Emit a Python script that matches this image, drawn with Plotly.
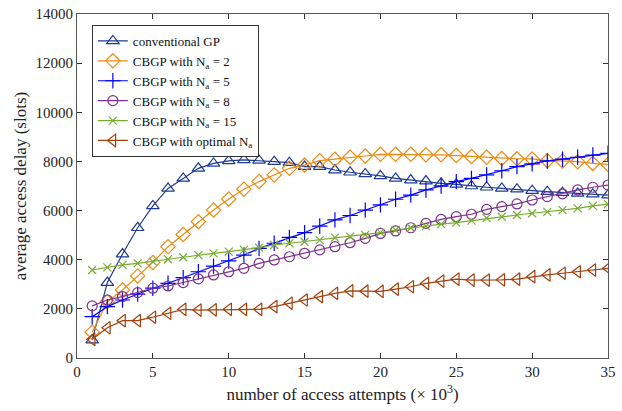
import plotly.graph_objects as go

attempts = list(range(1, 36))

conv_gp = [730, 3070, 4230, 5300, 6190, 6900, 7310, 7720, 7920, 8020, 8060, 8040, 7990, 7950, 7790,
           7790, 7650, 7560, 7490, 7410, 7310, 7240, 7200, 7110, 7070, 7000, 6950, 6900, 6870, 6810,
           6770, 6730, 6700, 6670, 6630]
cbgp_2 = [1050, 2290, 2770, 3340, 3890, 4530, 5030, 5550, 6020, 6470, 6870, 7180, 7450, 7720, 7850,
          8030, 8090, 8170, 8220, 8290, 8290, 8290, 8270, 8270, 8240, 8200, 8170, 8120, 8110, 8100,
          8030, 8020, 7990, 7920, 7880]
cbgp_5 = [1680, 2090, 2360, 2600, 2840, 3040, 3270, 3510, 3740, 3950, 4190, 4460, 4670, 4910, 5100,
          5370, 5620, 5800, 6020, 6230, 6460, 6630, 6840, 7000, 7180, 7310, 7450, 7620, 7790, 7900,
          8020, 8090, 8170, 8260, 8330]
cbgp_8 = [2120, 2360, 2500, 2660, 2840, 2930, 3070, 3220, 3380, 3510, 3650, 3850, 3990, 4120, 4260,
          4400, 4530, 4690, 4870, 5070, 5170, 5300, 5480, 5640, 5750, 5850, 6050, 6160, 6270, 6430,
          6570, 6680, 6840, 6950, 7040]
cbgp_15 = [3580, 3690, 3790, 3850, 3920, 4020, 4100, 4190, 4260, 4330, 4400, 4490, 4600, 4670, 4730,
           4800, 4900, 4940, 5010, 5100, 5210, 5300, 5370, 5450, 5510, 5590, 5690, 5750, 5820, 5890,
           5950, 6020, 6090, 6190, 6260]
cbgp_opt = [760, 1230, 1520, 1520, 1660, 1820, 1980, 1950, 1960, 1980, 1980, 1980, 2090, 2230, 2360,
            2500, 2630, 2730, 2720, 2710, 2800, 2900, 3040, 3130, 3210, 3170, 3170, 3180, 3210, 3310,
            3380, 3450, 3510, 3580, 3650]

series = [
    ("conventional GP", conv_gp, "#1F3A93", "triangle-up-open", 11),
    ("CBGP with N<sub>a</sub> = 2", cbgp_2, "#EE8A12", "diamond-open", 11),
    ("CBGP with N<sub>a</sub> = 5", cbgp_5, "#0000FF", "cross-thin-open", 11),
    ("CBGP with N<sub>a</sub> = 8", cbgp_8, "#7E2F8E", "circle-open", 10),
    ("CBGP with N<sub>a</sub> = 15", cbgp_15, "#77AC30", "x-thin-open", 8),
    ("CBGP with optimal N<sub>a</sub>", cbgp_opt, "#A3400D", "triangle-left-open", 11),
]

fig = go.Figure()
for name, vals, color, sym, size in series:
    fig.add_trace(go.Scatter(
        x=attempts, y=vals, name=name, mode="lines+markers",
        line=dict(color=color, width=1.2),
        marker=dict(symbol=sym, size=size, color=color, line=dict(color=color, width=1.2)),
    ))

font_family = "Liberation Serif, Times New Roman, serif"
axis_common = dict(
    showline=True, linecolor="#555555", linewidth=1, mirror="ticks",
    ticks="inside", ticklen=5, tickcolor="#333333",
    showgrid=False, zeroline=False,
    tickfont=dict(family=font_family, size=15, color="#222222"),
)
fig.update_xaxes(range=[0, 35], tick0=0, dtick=5, tickformat="d",
                 title=dict(text="number of access attempts (× 10<sup>3</sup>)",
                            font=dict(family=font_family, size=17, color="#222222"), standoff=9),
                 **axis_common)
fig.update_yaxes(range=[0, 14000], tick0=0, dtick=2000, tickformat="d",
                 title=dict(text="average access delay (slots)",
                            font=dict(family=font_family, size=17, color="#222222"), standoff=4),
                 **axis_common)

fig.update_layout(
    width=622, height=411,
    margin=dict(l=77, r=14, t=14, b=53, autoexpand=False),
    plot_bgcolor="white", paper_bgcolor="white",
    font=dict(family=font_family, color="#222222"),
    legend=dict(x=0.028, y=0.968, xanchor="left", yanchor="top",
                bgcolor="white", bordercolor="#333333", borderwidth=1,
                font=dict(family=font_family, size=13, color="#111111"),
                tracegroupgap=0, itemwidth=30),
    showlegend=True,
)

fig.write_html("out.html", config={"displayModeBar": False},
               post_script="document.body.style.margin='0px';")
